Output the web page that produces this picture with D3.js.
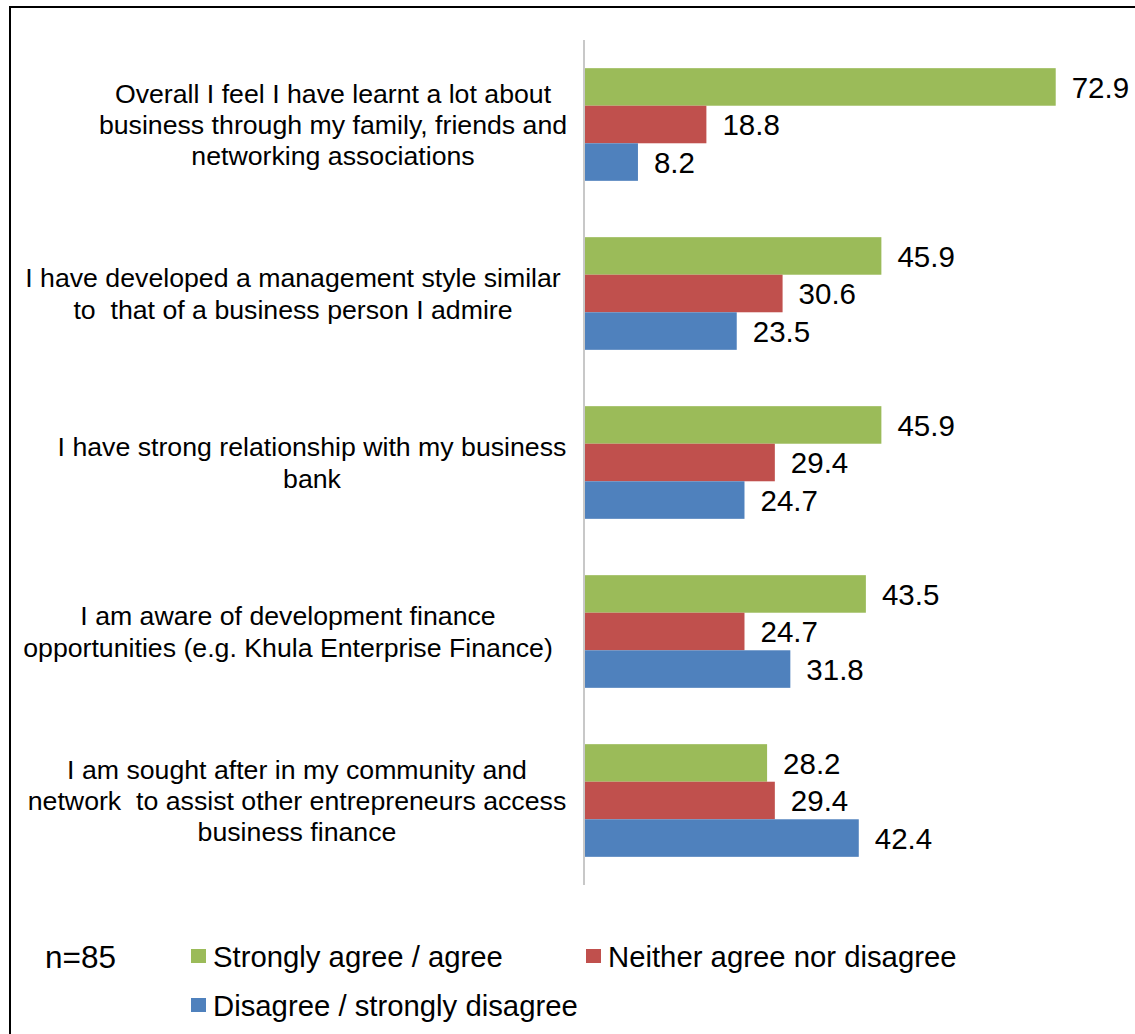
<!DOCTYPE html>
<html>
<head>
<meta charset="utf-8">
<script src="https://cdn.jsdelivr.net/npm/d3@7"></script>
<style>
  html, body { margin: 0; padding: 0; background: #fff; }
  svg { display: block; font-family: "Liberation Sans", Arial, sans-serif; }
</style>
</head>
<body>
<svg id="chart" width="1135" height="1034"></svg>
<script>
// Survey statements (wrapped into display lines)
const categories = [
  ["Overall I feel I have learnt a lot about", "business through my family, friends and", "networking associations"],
  ["I have developed a management style similar", "to  that of a business person I admire"],
  ["I have strong relationship with my business", "bank"],
  ["I am aware of development finance", "opportunities (e.g. Khula Enterprise Finance)"],
  ["I am sought after in my community and", "network  to assist other entrepreneurs access", "business finance"]
];

const seriesNames = ["Strongly agree / agree", "Neither agree nor disagree", "Disagree / strongly disagree"];

// Percentages per statement, one array per response group
const agreeValues    = [72.9, 45.9, 45.9, 43.5, 28.2];
const neitherValues  = [18.8, 30.6, 29.4, 24.7, 29.4];
const disagreeValues = [8.2, 23.5, 24.7, 31.8, 42.4];

const sampleNote = "n=85";

const seriesColors = ["#9BBB59", "#C0504D", "#4F81BD"];

const svg = d3.select("#chart");

// Outer frame
svg.append("rect")
  .attr("x", 10).attr("y", 7)
  .attr("width", 1200).attr("height", 1100)
  .attr("fill", "none").attr("stroke", "#000").attr("stroke-width", 2);

const plotTop = 40, plotBottom = 885, plotLeft = 585;
const pxPerUnit = 6.457;

const x = d3.scaleLinear().domain([0, 80]).range([plotLeft, plotLeft + 80 * pxPerUnit]);
const y = d3.scaleBand().domain(d3.range(categories.length)).range([plotTop, plotBottom]).padding(0);
const ySub = d3.scaleBand().domain(d3.range(3)).range([0, y.bandwidth()]).paddingInner(0).paddingOuter(0.75);

const seriesValues = [agreeValues, neitherValues, disagreeValues];

const rows = [];
categories.forEach((c, i) => {
  seriesValues.forEach((vals, s) => rows.push({ cat: i, s: s, v: vals[i] }));
});

// Bars
svg.append("g").selectAll("rect")
  .data(rows)
  .join("rect")
  .attr("x", x(0))
  .attr("y", d => y(d.cat) + ySub(d.s))
  .attr("width", d => x(d.v) - x(0))
  .attr("height", ySub.bandwidth())
  .attr("fill", d => seriesColors[d.s]);

// Value labels
svg.append("g").selectAll("text")
  .data(rows)
  .join("text")
  .attr("x", d => x(d.v) + 16)
  .attr("y", d => y(d.cat) + ySub(d.s) + ySub.bandwidth() / 2)
  .attr("dy", "0.36em")
  .attr("font-size", 29.5)
  .attr("fill", "#000")
  .text(d => d.v.toFixed(1));

// Category axis line
svg.append("line")
  .attr("x1", plotLeft - 1).attr("x2", plotLeft - 1)
  .attr("y1", plotTop).attr("y2", plotBottom)
  .attr("stroke", "#c8c8c8").attr("stroke-width", 2);

// Category labels, centred beside each group
const labelCenter = [333, 293, 312, 288, 297];
const lineGap = 31.3;
const labelG = svg.append("g");
categories.forEach((lines, i) => {
  const cy = y(i) + y.bandwidth() / 2;
  const t = labelG.append("text")
    .attr("text-anchor", "middle")
    .attr("font-size", 26.7)
    .attr("fill", "#000")
    .style("white-space", "pre");
  lines.forEach((ln, k) => {
    t.append("tspan")
      .attr("x", labelCenter[i])
      .attr("y", cy + (k - (lines.length - 1) / 2) * lineGap)
      .attr("dy", "0.36em")
      .text(ln);
  });
});

// Legend
svg.append("text")
  .attr("x", 45).attr("y", 968)
  .attr("font-size", 31.5)
  .text(sampleNote);

const legendPos = [[191, 949], [586, 949], [191, 998]];
const legend = svg.append("g").selectAll("g")
  .data(seriesNames)
  .join("g")
  .attr("transform", (d, i) => `translate(${legendPos[i][0]},${legendPos[i][1]})`);
legend.append("rect")
  .attr("width", 15).attr("height", 14)
  .attr("fill", (d, i) => seriesColors[i]);
legend.append("text")
  .attr("x", 22).attr("y", 7)
  .attr("dy", "0.36em")
  .attr("font-size", 29.3)
  .text(d => d);
</script>
</body>
</html>
